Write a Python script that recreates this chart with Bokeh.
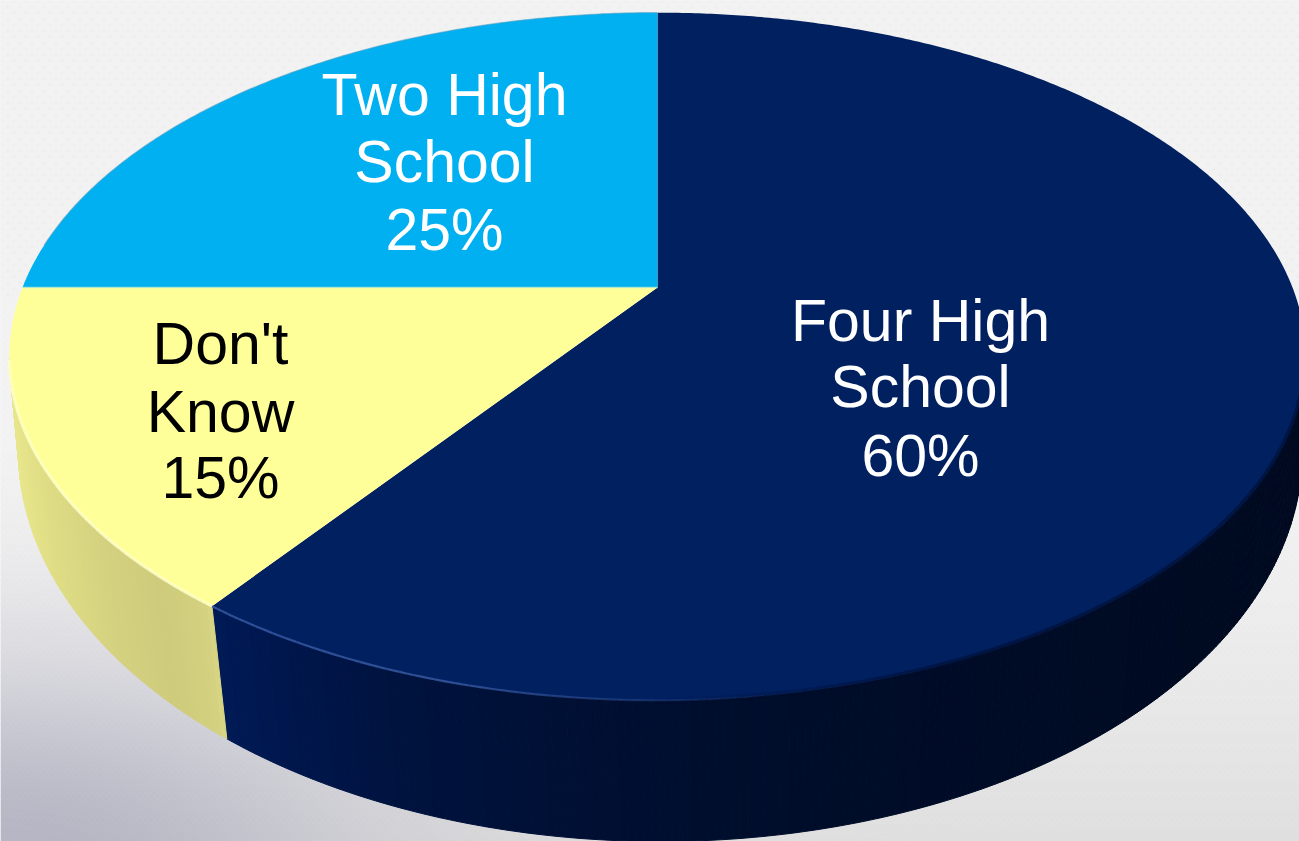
import numpy as np
from bokeh.plotting import figure
from bokeh.embed import file_html
from bokeh.resources import INLINE
from bokeh.core.properties import value

# ---- data (clockwise from 12 o'clock)
categories = ["Four High School", "Don't Know", "Two High School"]
shares = [60, 15, 25]
top_colors = ["#002060", "#FFFF99", "#00B0F0"]
label_lines = [["Four High", "School", "60%"], ["Don't", "Know", "15%"], ["Two High", "School", "25%"]]
label_colors = ["#FFFFFF", "#000000", "#FFFFFF"]
label_x = [920, 220, 444]
label_baselines = [[342, 408, 477], [365, 433, 499], [116, 183, 251]]

# ---- projection of the disc (reference pixel space)
AX, AY = 657.0, 287.0      # pie centre
RX, RY, K = 635.0, 330.0, 0.2006
TOPC = (657.0, 356.0, 648.0, 344.0)    # outline of the top face
BOT = (660.0, 450.0, 642.0, 391.0)     # outline of the lower rim


def project(theta):
    """theta: radians clockwise from 12 o'clock on the flat disc."""
    u, v = np.sin(theta), np.cos(theta)
    d = 1 + K * v
    return AX + RX * u / d, AY - RY * v / d


def lower(x, y):
    phi = np.arctan2((y - TOPC[1]) / TOPC[3], (x - TOPC[0]) / TOPC[2])
    phi2 = np.pi / 2 + (phi - np.pi / 2) * (1 - 0.022)
    return BOT[0] + BOT[2] * np.cos(phi2), BOT[1] + BOT[3] * np.sin(phi2), phi


wall_stops = {
    0: ([213, 300, 400, 600, 800, 1000, 1310],
        [(0, 26, 86), (0, 22, 74), (0, 19, 62), (0, 15, 50), (0, 13, 42), (0, 12, 38), (0, 10, 32)]),
    1: ([10, 45, 100, 160, 205, 228],
        [(232, 230, 140), (222, 220, 132), (212, 210, 127), (206, 204, 124), (212, 210, 128), (232, 230, 146)]),
}


def wall_color(i, x):
    xs, cs = wall_stops[i]
    cs = np.array(cs, dtype=float)
    return "#%02x%02x%02x" % tuple(int(round(np.interp(x, xs, cs[:, c]))) for c in range(3))


W, H = 1299, 841
p = figure(width=W, height=H, x_range=(0, W), y_range=(H, 0),
           toolbar_location=None, output_backend="svg", min_border=0)
p.axis.visible = False
p.grid.visible = False
p.outline_line_color = None
p.background_fill_color = "#EEEEF0"
p.border_fill_color = "#EEEEF0"

# ---- textured backdrop
yy, xx = np.mgrid[0:H, 0:W]
px, py = xx.astype(float), yy.astype(float)
t = np.clip((py - 430) / 411, 0, 1)
base = 243 - 20 * t ** 1.4
blob = np.exp(-((px / 380) ** 2 + ((841 - py) / 190) ** 2))
r = base - 42 * blob
g = base - 42 * blob
b = base - 28 * blob
fine = ((xx + yy) % 6 < 2) & ((xx - yy) % 6 < 2)
coarse = ((xx + yy) % 12 < 3) & ((xx - yy) % 12 < 3)
dots = np.where(py < 300, coarse, fine).astype(float)
amp = np.where(py < 300, -5.0, 5.0)
r, g, b = r + amp * dots, g + amp * dots, b + amp * dots
img = np.zeros((H, W), dtype=np.uint32)
view = img.view(dtype=np.uint8).reshape((H, W, 4))
view[..., 0] = np.clip(r, 0, 255)
view[..., 1] = np.clip(g, 0, 255)
view[..., 2] = np.clip(b, 0, 255)
view[..., 3] = 255
p.image_rgba(image=[img], x=0, y=0, dw=W, dh=H)

# ---- geometry from the shares
edges = np.cumsum([0] + shares) / sum(shares) * 2 * np.pi

# side wall
wx, wy, wc = [], [], []
for i in (0, 1):
    n = int(shares[i] * 6)
    th = np.linspace(edges[i], edges[i + 1], n + 1)
    for a, c in zip(th[:-1], th[1:]):
        x0, y0 = project(a)
        x1, y1 = project(c)
        bx0, by0, phi0 = lower(x0, y0)
        bx1, by1, phi1 = lower(x1, y1)
        if phi0 < 0 or phi1 < 0:
            continue
        wx.append([x0, x1, bx1, bx0])
        wy.append([y0, y1, by1, by0])
        wc.append(wall_color(i, (x0 + x1) / 2))
p.patches(wx, wy, fill_color=wc, line_color=wc, line_width=1)

# top face
for i in range(3):
    th = np.linspace(edges[i], edges[i + 1], shares[i] * 8 + 1)
    x, y = project(th)
    p.patch(np.r_[AX, x], np.r_[AY, y], fill_color=top_colors[i], line_color=None)

# bevel along the rim
sx, sy, sc, sa, sw = [], [], [], [], []
th = np.linspace(edges[0], edges[1], 400)
for a, c in zip(th[:-1], th[1:]):
    x0, y0 = project(a)
    x1, y1 = project(c)
    if y1 < 340:
        continue
    xm = (x0 + x1) / 2
    if xm < 800:
        sx.append([x0, x1]); sy.append([y0, y1])
        sc.append("#3A5CA8"); sa.append(float(np.clip((800 - xm) / 450, 0.05, 0.8))); sw.append(2.2)
    sx.append([x0, x1]); sy.append([y0, y1])
    sc.append("#000C2C"); sa.append(float(np.clip((xm - 650) / 550, 0, 0.55))); sw.append(6)
th = np.linspace(edges[1], edges[2], 90)
for a, c in zip(th[:-1], th[1:]):
    x0, y0 = project(a)
    x1, y1 = project(c)
    if y1 < 356:
        continue
    sx.append([x0, x1]); sy.append([y0, y1])
    sc.append("#FFFFC8"); sa.append(0.85); sw.append(3)
p.multi_line(sx, sy, line_color=sc, line_alpha=sa, line_width=sw)

# thin rim on the light-blue slice and its seam with the yellow one
x, y = project(np.linspace(edges[2], edges[3], 120))
p.line(x[10:], y[10:], line_color="#4AA0C8", line_width=1.2, line_alpha=0.6)
p.line(x[:1].tolist() + [AX], y[:1].tolist() + [AY], line_color="#C8F0C8", line_width=1.5, line_alpha=0.7)

# labels
for lines, col, lx, bl in zip(label_lines, label_colors, label_x, label_baselines):
    p.text(x=[lx] * len(lines), y=bl, text=lines, text_color=col, text_align="center",
           text_baseline="alphabetic", text_font=value("Liberation Sans"), text_font_size="59px",
           y_offset=-22)

open("out.html", "w").write(file_html(p, INLINE))
